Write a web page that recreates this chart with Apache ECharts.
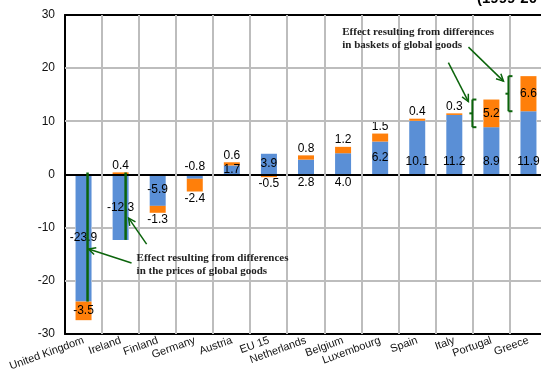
<!DOCTYPE html>
<html>
<head>
<meta charset="utf-8">
<script src="https://cdn.jsdelivr.net/npm/echarts@6/dist/echarts.min.js"></script>
<style>
  html, body { margin: 0; padding: 0; background: #fff; }
  #chart { width: 541px; height: 374px; }
</style>
</head>
<body>
<div id="chart"></div>
<script>
// countries (x axis)
var categories = ["United Kingdom", "Ireland", "Finland", "Germany", "Austria", "EU 15",
  "Netherlands", "Belgium", "Luxembourg", "Spain", "Italy", "Portugal", "Greece"];
// effect of differences in prices of global goods (blue)
var pricesEffect = [-23.9, -12.3, -5.9, -0.8, 1.7, 3.9, 2.8, 4.0, 6.2, 10.1, 11.2, 8.9, 11.9];
// effect of differences in baskets of global goods (orange)
var basketsEffect = [-3.5, 0.4, -1.3, -2.4, 0.6, -0.5, 0.8, 1.2, 1.5, 0.4, 0.3, 5.2, 6.6];
// y axis ticks
var yTicks = [-30, -20, -10, 0, 10, 20, 30];

// label placement, like in the excel original
var bluePos = ["inside", "inside", "inside", "top", "inside", "inside", "bottom", "bottom",
  "inside", "insideBottom", "insideBottom", "insideBottom", "insideBottom"];
var orangePos = ["inside", "top", "bottom", "bottom", "top", "bottom", "top", "top",
  "top", "top", "top", "inside", "inside"];

var GREEN = "#0b640b";
var GRIDC = "#bdbdbd";
var BAR_W = 16;
var FONT = "Liberation Sans, Arial, sans-serif";
var SERIF = "Liberation Serif, Times New Roman, serif";

var chart = echarts.init(document.getElementById("chart"));

function fmt(p) { return p.value.toFixed(1); }

var option = {
  animation: false,
  grid: {
    left: 65, top: 15, width: 482, height: 319,
    outerBoundsMode: "none"
  },
  xAxis: [{
    type: "category",
    data: categories,
    axisLine: { show: true, onZero: false, lineStyle: { color: "#000", width: 2 } },
    axisTick: { show: false },
    splitLine: { show: false },
    axisLabel: {
      interval: 0, rotate: 20, margin: 6,
      color: "#111", fontSize: 11, fontFamily: FONT
    }
  }, {
    // top frame line
    type: "category",
    data: categories,
    position: "top",
    axisLine: { show: true, onZero: false, lineStyle: { color: "#000", width: 2 } },
    axisTick: { show: false },
    axisLabel: { show: false },
    splitLine: { show: false }
  }],
  yAxis: {
    type: "value",
    min: yTicks[0], max: yTicks[yTicks.length - 1], interval: 10,
    axisLine: { show: true, onZero: false, lineStyle: { color: "#000", width: 2 } },
    axisTick: { show: false },
    splitLine: { show: false },
    axisLabel: { color: "#111", fontSize: 12, fontFamily: FONT, margin: 10 }
  },
  series: [
    {
      name: "prices",
      type: "bar",
      stack: "total",
      barWidth: BAR_W,
      itemStyle: { color: "#5a8fd6" },
      label: { show: true, formatter: fmt, color: "#000", fontSize: 12, fontFamily: FONT, distance: 2 },
      data: pricesEffect.map(function (v, i) {
        var lab = { position: bluePos[i] };
        if (bluePos[i] === "insideBottom") lab.distance = 7;
        return { value: v, label: lab };
      }),
      markLine: {
        silent: true,
        symbol: "none",
        label: { show: false },
        lineStyle: { color: "#000", width: 2, type: "solid" },
        data: [{ yAxis: 0 }]
      }
    },
    {
      name: "baskets",
      type: "bar",
      stack: "total",
      barWidth: BAR_W,
      itemStyle: { color: "#ff7f0a" },
      label: { show: true, formatter: fmt, color: "#000", fontSize: 12, fontFamily: FONT, distance: 1 },
      data: basketsEffect.map(function (v, i) {
        return { value: v, label: { position: orangePos[i] } };
      })
    }
  ]
};
chart.setOption(option);

// everything below is placed from the data via the chart's own scales
function px(i, v) { return chart.convertToPixel({ gridIndex: 0 }, [i, v]); }

function line(x1, y1, x2, y2, w, color, z) {
  return { type: "line", z: z || 300, silent: true,
    shape: { x1: x1, y1: y1, x2: x2, y2: y2 },
    style: { stroke: color || GREEN, lineWidth: w } };
}
function arrow(x1, y1, x2, y2) {
  var a = Math.atan2(y2 - y1, x2 - x1), L = 7, W = 3.5;
  var p1 = [x2 - L * Math.cos(a) + W * Math.sin(a), y2 - L * Math.sin(a) - W * Math.cos(a)];
  var p2 = [x2 - L * Math.cos(a) - W * Math.sin(a), y2 - L * Math.sin(a) + W * Math.cos(a)];
  return [
    line(x1, y1, x2, y2, 1.5),
    { type: "polyline", z: 300, silent: true,
      shape: { points: [p1, [x2, y2], p2] },
      style: { stroke: GREEN, lineWidth: 1.5, fill: null } }
  ];
}
function bracket(x, yTop, yBot) {
  var ym = (yTop + yBot) / 2;
  return [
    line(x, yTop, x, yBot, 2),
    line(x, yTop, x + 4, yTop, 2),
    line(x, yBot, x + 4, yBot, 2),
    line(x, ym, x - 3, ym, 2)
  ];
}
function note(x, y, lines) {
  return { type: "text", z: 300, silent: true, x: x, y: y,
    style: { text: lines.join("\n"), font: "bold 11px " + SERIF, fill: "#222",
      lineHeight: 12.5, verticalAlign: "top" } };
}

var g = [];

// light grey gridlines; drawn as graphic lines (axis split lines did not show),
// horizontal ones are cut where a bar covers them so they look behind the bars
var yTop = px(0, yTicks[yTicks.length - 1])[1], yBot = px(0, yTicks[0])[1];
var centers = categories.map(function (c, i) { return px(i, 0)[0]; });
var step = centers[1] - centers[0];
var bounds = [centers[0] - step / 2];
centers.forEach(function (c) { bounds.push(c + step / 2); });
var posSum = pricesEffect.map(function (p, i) {
  return Math.max(p, 0) + Math.max(basketsEffect[i], 0);
});
var negSum = pricesEffect.map(function (p, i) {
  return Math.min(p, 0) + Math.min(basketsEffect[i], 0);
});
yTicks.forEach(function (t) {
  if (t === 0 || t === yTicks[0] || t === yTicks[yTicks.length - 1]) return;
  var y = Math.round(px(0, t)[1]);
  centers.forEach(function (c, i) {
    var crosses = t > 0 ? posSum[i] > t : negSum[i] < t;
    if (crosses) {
      g.push(line(bounds[i], y, c - BAR_W / 2, y, 2, GRIDC, 150));
      g.push(line(c + BAR_W / 2, y, bounds[i + 1], y, 2, GRIDC, 150));
    } else {
      g.push(line(bounds[i], y, bounds[i + 1], y, 2, GRIDC, 150));
    }
  });
});
for (var i = 1; i < categories.length; i++) {
  var x = Math.round(bounds[i]);
  g.push(line(x, yTop, x, yBot, 2, GRIDC, 150));
}

var uk0 = px(0, 0), ukEnd = px(0, pricesEffect[0]);
var ukX = uk0[0] + 4;
g.push(line(ukX, uk0[1] - 2, ukX, ukEnd[1], 2.5));
var ir0 = px(1, 0), irEnd = px(1, pricesEffect[1]);
var irX = ir0[0] + 5;
g.push(line(irX, ir0[1] - 2, irX, irEnd[1], 2.5));

var t1 = [ukX + 1, px(0, -14)[1]];
g = g.concat(arrow(t1[0] + 43, t1[1] + 14, t1[0], t1[1]));
var t2 = [irX + 3, px(1, -8.2)[1]];
g = g.concat(arrow(t2[0] + 18, t2[1] + 26, t2[0], t2[1]));
g.push(note(ir0[0] + 16, px(1, -14.6)[1], ["Effect resulting from differences", "in the prices of global goods"]));

// baskets brackets on Portugal and Greece
var pX = centers[11] - 19;
var pTop = px(11, pricesEffect[11] + basketsEffect[11])[1], pBot = px(11, pricesEffect[11])[1];
g = g.concat(bracket(pX, pTop, pBot));
var grX = centers[12] - 20;
var gTop = px(12, pricesEffect[12] + basketsEffect[12])[1], gBot = px(12, pricesEffect[12])[1];
g = g.concat(bracket(grX, gTop, gBot));
g = g.concat(arrow(pX - 24, pTop - 37, pX - 4, pTop + 2));
g = g.concat(arrow(grX - 40, gTop - 29, grX - 5, gTop + 5));
g.push(note(centers[9] - 75, px(9, 27.9)[1], ["Effect resulting from differences", "in baskets of global goods"]));

// cut-off title at the top right
g.push({ type: "text", x: 477, y: -1, z: 300, silent: true,
  style: { text: "(1999-20", font: "bold 15px " + FONT, fill: "#000", verticalAlign: "middle" } });

chart.setOption({ graphic: g });
</script>
</body>
</html>
